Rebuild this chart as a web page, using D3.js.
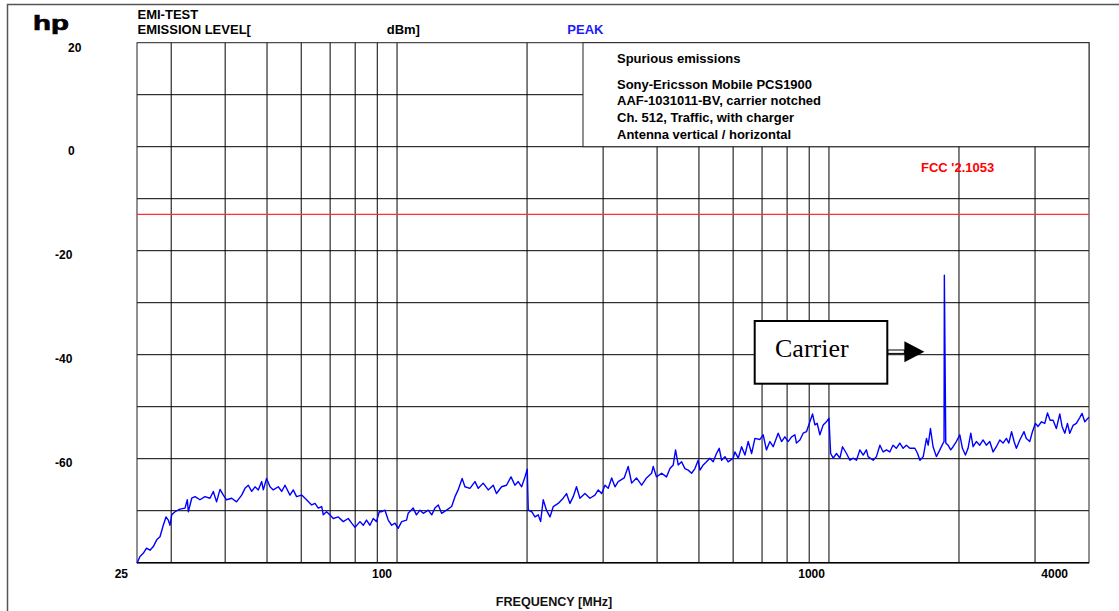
<!DOCTYPE html>
<html>
<head>
<meta charset="utf-8">
<script src="https://cdn.jsdelivr.net/npm/d3@7"></script>
<style>
  body { margin: 0; background: #fff; }
  text { font-family: "Liberation Sans", Arial, sans-serif; font-weight: bold; }
</style>
</head>
<body>
<div class="chart"></div>
<script>

// grid + axis values
var gridFreqs = [30, 40, 50, 60, 70, 80, 90, 100, 200, 300, 400, 500, 600, 700, 800, 900, 1000, 2000, 3000];
var gridLevels = [10, 0, -10, -20, -30, -40, -50, -60, -70];
var yTickLabels = [20, 0, -20, -40, -60];
var xTickLabels = [25, 100, 1000, 4000];
var limitLevel = -13;            // FCC limit line, dBm
var carrierFreq = 1850;          // MHz
var legendLines = ["Sony-Ericsson Mobile PCS1900", "AAF-1031011-BV, carrier notched",
                   "Ch. 512, Traffic, with charger", "Antenna vertical / horizontal"];

// peak trace [MHz, dBm]
var peakTrace = [
  [25.0,-80.1],[25.4,-78.8],[25.85,-78.2],[26.3,-77.2],[26.8,-77.6],[27.27,-76.9],[27.77,-75.6],[28.26,-75.0],
  [28.76,-72.8],[29.18,-71.2],[29.54,-71.8],[29.81,-72.8],[30.08,-70.8],[30.62,-70.2],[31.44,-69.7],[32.29,-69.5],
  [32.69,-67.9],[32.87,-70.2],[33.47,-67.6],[34.06,-67.3],[34.97,-67.9],[35.92,-67.3],[36.89,-67.6],[37.55,-66.3],
  [38.21,-68.3],[38.92,-65.9],[39.61,-67.0],[40.30,-67.9],[41.42,-67.6],[42.50,-68.3],[43.68,-67.0],[44.46,-65.7],
  [45.25,-65.1],[46.08,-66.3],[46.90,-65.4],[47.73,-66.0],[48.60,-64.4],[49.02,-66.0],[49.88,-63.8],[50.80,-65.4],
  [51.69,-66.0],[53.09,-65.4],[54.07,-66.3],[55.03,-65.1],[56.51,-67.0],[57.51,-66.0],[58.52,-67.3],[60.15,-67.0],
  [61.73,-67.9],[63.44,-68.9],[64.57,-68.6],[65.71,-69.5],[66.92,-69.2],[67.49,-70.8],[68.67,-70.2],[69.94,-70.8],
  [71.18,-71.5],[73.10,-71.2],[75.08,-72.1],[77.10,-71.5],[78.51,-72.4],[79.91,-73.2],[82.06,-72.1],[83.51,-72.8],
  [84.98,-71.8],[86.55,-72.8],[88.08,-71.5],[89.64,-72.1],[90.95,-70.2],
  [92.13,-70.2],[93.77,-69.9],[95.42,-71.8],[97.18,-72.8],[98.90,-72.4],[100.6,-73.4],[102.5,-72.1],[105.2,-71.8],
  [106.1,-70.5],[109.0,-69.5],[110.9,-70.8],[113.0,-69.9],[115.0,-70.5],[118.1,-69.9],[120.3,-70.8],[122.4,-69.5],
  [124.6,-68.9],[126.8,-70.5],[130.2,-69.9],[133.8,-69.2],[136.2,-67.3],[138.5,-66.0],[141.5,-63.8],[143.6,-65.4],
  [147.5,-65.7],[151.5,-64.4],[154.2,-65.7],[158.3,-64.7],[162.6,-66.0],[167.0,-65.1],[169.9,-66.7],[174.6,-65.4],
  [179.2,-65.1],[183.6,-63.5],[187.5,-65.1],[190.8,-64.4],[194.3,-65.4],[197.8,-63.5],[200.2,-62.0],[201.3,-69.9],
  [205.0,-70.2],[208.6,-71.2],[212.3,-70.8],[215.0,-72.1],[218.0,-67.9],[221.8,-69.9],[226.0,-71.2],[230.0,-69.2],
  [236.1,-68.6],[242.5,-67.6],[246.8,-66.7],[251.4,-68.6],[255.8,-67.3],[260.3,-65.4],[265.1,-67.6],[272.3,-66.7],
  [279.6,-67.6],[287.2,-67.0],[292.3,-66.0],[297.7,-66.7],[303.0,-65.1],[308.3,-65.7],[314.0,-63.7],[319.6,-65.4],
  [325.1,-64.4],[335.7,-63.7],
  [342.9,-61.5],[349.3,-64.7],[358.4,-63.7],[368.4,-65.1],[378.1,-63.7],[388.5,-62.8],[391.8,-61.5],[398.7,-63.5],
  [409.9,-62.8],[420.6,-63.5],[428.4,-61.9],[436.0,-61.2],[441.4,-58.3],[447.7,-61.2],[455.9,-60.6],[464.0,-61.9],
  [472.2,-62.2],[480.9,-62.8],[489.4,-61.9],[498.1,-60.3],[502.7,-62.2],[511.6,-61.2],[520.6,-60.6],[530.1,-59.9],
  [539.5,-60.6],[549.0,-59.0],[557.1,-58.0],[564.3,-60.3],[574.3,-59.6],[584.4,-60.6],[600.2,-59.9],[605.7,-58.7],
  [616.4,-59.9],[627.7,-57.7],[638.9,-59.3],[650.2,-56.7],[662.1,-59.0],[673.9,-56.1],[692.0,-56.3],[704.2,-55.4],
  [716.6,-58.3],[729.9,-56.7],[742.8,-57.7],[762.8,-55.1],[776.8,-56.7],[790.6,-55.8],[804.6,-56.7],[819.4,-55.8],
  [834.0,-55.4],[840.9,-57.0],[856.5,-56.4],[871.6,-55.1],[887.0,-54.8],[903.3,-52.9],[916.2,-51.4],[927.8,-53.5],
  [939.2,-53.2],[952.8,-55.4],[969.7,-53.5],[986.7,-52.9],[1000,-52.2],[1009,-59.0],[1023,-59.9],[1041,-59.0],
  [1060,-59.9],[1075,-57.7],[1098,-59.0],[1118,-60.3],[1138,-59.9],[1158,-60.3],[1179,-58.3],[1200,-59.3],[1221,-58.3],
  [1232,-59.6],[1266,-60.3],[1288,-59.6],[1312,-57.4],[1335,-58.7],[1359,-58.3],[1383,-58.7],[1407,-57.4],
  [1432,-58.0],[1459,-57.0],[1485,-58.0],[1511,-57.4],[1539,-58.0],[1581,-58.0],[1604,-59.0],[1624,-60.3],
  [1653,-59.6],[1682,-56.1],[1697,-57.4],[1718,-54.2],[1742,-57.7],[1773,-59.6],[1806,-58.3],[1828,-57.4],
  [1847,-56.7],[1850,-24.7],[1864,-57.0],[1887,-57.4],[1914,-58.3],[1938,-57.7],[1972,-56.7],[2009,-55.4],
  [2037,-58.0],[2070,-59.3],[2099,-58.0],[2130,-55.1],[2156,-57.7],[2194,-56.7],[2234,-57.4],[2274,-56.4],
  [2314,-57.4],[2357,-56.7],[2399,-58.7],[2441,-57.7],[2486,-56.4],[2530,-57.0],[2575,-56.1],[2609,-57.0],
  [2647,-54.8],[2683,-56.7],[2716,-58.0],[2766,-56.4],[2829,-54.8],[2864,-56.1],[2917,-56.7],[2959,-54.8],
  [3006,-53.2],[3049,-53.8],[3105,-52.9],[3160,-53.2],[3206,-51.2],[3251,-52.6],[3303,-52.6],[3361,-54.2],
  [3423,-51.4],[3465,-53.8],[3516,-55.1],[3566,-53.2],[3610,-55.1],[3674,-53.6],[3739,-53.2],[3808,-52.1],
  [3855,-51.3],[3911,-52.9],[4000,-52.0]
];

var width = 1119, height = 611;

var svg = d3.select(".chart").append("svg")
    .attr("width", width)
    .attr("height", height);

var x = d3.scaleLog()
    .domain([25, 4000])
    .range([137, 1089]);
var y = d3.scaleLinear()
    .domain([-80, 20])
    .range([562.7, 42.7]);

// outer page frame
svg.append("path")
    .attr("d", "M7.5," + height + "V4.5H" + width)
    .attr("fill", "none")
    .attr("stroke", "#555")
    .attr("stroke-width", 1.5);

// grid
svg.selectAll(".hgrid").data(gridLevels).enter()
   .append("line")
   .attr("class", "hgrid")
   .attr("x1", x(25)).attr("x2", x(4000))
   .attr("y1", function(d) { return y(d); })
   .attr("y2", function(d) { return y(d); })
   .attr("stroke", "#000")
   .attr("stroke-width", 1);

svg.selectAll(".vgrid").data(gridFreqs).enter()
   .append("line")
   .attr("class", "vgrid")
   .attr("x1", function(d) { return x(d); })
   .attr("x2", function(d) { return x(d); })
   .attr("y1", y(20)).attr("y2", y(-80))
   .attr("stroke", "#000")
   .attr("stroke-width", 1);

// plot frame
svg.append("rect")
    .attr("x", x(25)).attr("y", y(20))
    .attr("width", x(4000) - x(25))
    .attr("height", y(-80) - y(20))
    .attr("fill", "none")
    .attr("stroke", "#222")
    .attr("stroke-width", 1);
svg.append("line")
    .attr("x1", x(25)).attr("x2", x(4000))
    .attr("y1", y(-80)).attr("y2", y(-80))
    .attr("stroke", "#000")
    .attr("stroke-width", 1.6);

// info box over the top right
var boxLeft = 583;
svg.append("rect")
    .attr("x", boxLeft).attr("y", y(20))
    .attr("width", x(4000) - boxLeft)
    .attr("height", y(0) - y(20))
    .attr("fill", "#fff")
    .attr("stroke", "#222")
    .attr("stroke-width", 1);

svg.append("text")
    .attr("x", 617).attr("y", 63)
    .attr("font-size", 13)
    .text("Spurious emissions");

svg.selectAll(".legend").data(legendLines).enter()
   .append("text")
   .attr("class", "legend")
   .attr("x", 617)
   .attr("y", function(d, i) { return 88.8 + i * 16.6; })
   .attr("font-size", 13)
   .text(function(d) { return d; });

// limit line
svg.append("line")
    .attr("x1", x(25)).attr("x2", x(4000))
    .attr("y1", y(limitLevel)).attr("y2", y(limitLevel))
    .attr("stroke", "#ff3030")
    .attr("stroke-width", 1.3);

svg.append("text")
    .attr("x", 921).attr("y", 172)
    .attr("font-size", 13)
    .attr("fill", "#ff0000")
    .text("FCC '2.1053");

// the peak trace
var line = d3.line()
    .x(function(d) { return x(d[0]); })
    .y(function(d) { return y(d[1]); });

svg.append("path")
    .datum(peakTrace)
    .attr("d", line)
    .attr("fill", "none")
    .attr("stroke", "#0000ff")
    .attr("stroke-width", 1.4)
    .attr("stroke-linejoin", "round");

// carrier callout
var tipX = x(carrierFreq) - 20, tipY = 351.7;
svg.append("rect")
    .attr("x", 754.7).attr("y", 321)
    .attr("width", 132.6).attr("height", 62.7)
    .attr("fill", "#fff")
    .attr("stroke", "#000")
    .attr("stroke-width", 2);
svg.append("text")
    .attr("x", 775).attr("y", 356.5)
    .style("font-family", "'Liberation Serif', 'Times New Roman', serif")
    .style("font-weight", "normal")
    .attr("font-size", 26)
    .text("Carrier");
svg.append("rect")
    .attr("x", 888).attr("y", tipY - 1.7)
    .attr("width", tipX - 20 - 888).attr("height", 3.4)
    .attr("fill", "#fff")
    .attr("stroke", "#000")
    .attr("stroke-width", 1);
svg.append("path")
    .attr("d", "M" + (tipX - 20) + "," + (tipY - 10.5) + "L" + tipX + "," + tipY +
               "L" + (tipX - 20) + "," + (tipY + 10.5) + "Z")
    .attr("fill", "#000");

// axis labels
svg.selectAll(".ylab").data(yTickLabels).enter()
   .append("text")
   .attr("class", "ylab")
   .attr("x", function(d) { return d < 0 ? 55 : 68; })
   .attr("y", function(d) { return y(d) + (d == 20 ? 9.5 : 8); })
   .attr("font-size", 12)
   .text(function(d) { return d; });

var xLabShift = {25: -9, 100: -5, 1000: -4, 4000: -21};
svg.selectAll(".xlab").data(xTickLabels).enter()
   .append("text")
   .attr("class", "xlab")
   .attr("x", function(d) { return x(d) + xLabShift[d]; })
   .attr("y", 578)
   .attr("text-anchor", "end")
   .attr("font-size", 12)
   .text(function(d) { return d; });

svg.append("text")
    .attr("x", 554).attr("y", 606)
    .attr("text-anchor", "middle")
    .attr("font-size", 12.6)
    .attr("fill", "#111")
    .text("FREQUENCY [MHz]");

// header
svg.append("text")
    .attr("transform", "translate(33,30) scale(1.4,1)")
    .attr("font-size", 21)
    .attr("stroke", "#000")
    .attr("stroke-width", 0.7)
    .text("hp");
svg.append("text")
    .attr("x", 137.5).attr("y", 19.3)
    .attr("font-size", 13)
    .text("EMI-TEST");
svg.append("text")
    .attr("x", 137.5).attr("y", 34.3)
    .attr("font-size", 13)
    .text("EMISSION LEVEL[");
svg.append("text")
    .attr("x", 386.7).attr("y", 34.3)
    .attr("font-size", 13)
    .text("dBm]");
svg.append("text")
    .attr("x", 567.3).attr("y", 34.3)
    .attr("font-size", 13)
    .attr("fill", "#1a1aff")
    .text("PEAK");

</script>
</body>
</html>
